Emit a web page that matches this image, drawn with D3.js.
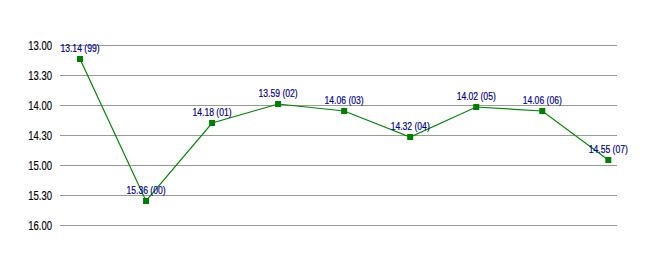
<!DOCTYPE html>
<html><head><meta charset="utf-8">
<script src="https://cdn.jsdelivr.net/npm/d3@7"></script>
<style>
html,body{margin:0;padding:0;background:#fff;}
svg{display:block;}
</style></head>
<body>
<svg id="chart" width="656" height="255"></svg>
<script>
const categories = ["99","00","01","02","03","04","05","06","07"];
const times = ["13.14","15.36","14.18","13.59","14.06","14.32","14.02","14.06","14.55"];
const tickLabels = ["13.00","13.30","14.00","14.30","15.00","15.30","16.00"];

const toSec = s => { const [m, ss] = s.split(".").map(Number); return m*60 + ss; };
const data = categories.map((c,i)=>({cat:c, label:times[i], v:toSec(times[i])}));

const svg = d3.select("#chart");
const font = "'Liberation Sans', Arial, sans-serif";

const y = d3.scaleLinear().domain([toSec("13.00"), toSec("16.00")]).range([45, 225]);
const x = d3.scalePoint().domain(categories).range([80, 608.3]);

const yAxis = d3.axisLeft(y)
  .tickValues(tickLabels.map(toSec))
  .tickFormat((d,i)=>tickLabels[i])
  .tickSize(-556.5).tickPadding(8);

const g = svg.append("g").attr("transform","translate(60,0)").call(yAxis);
g.select(".domain").remove();
g.selectAll(".tick line").attr("stroke","#999").attr("stroke-width",1).attr("shape-rendering","crispEdges");
g.selectAll(".tick text").attr("fill","#000").attr("font-size","12.5px").attr("font-family",font)
  .attr("stroke","#000").attr("stroke-width",0.15)
  .each(function(){ const w=this.getComputedTextLength(); d3.select(this).attr("textLength",w*0.76).attr("lengthAdjust","spacingAndGlyphs"); });

const line = d3.line().x(d=>x(d.cat)).y(d=>y(d.v));
svg.append("path").datum(data).attr("d",line).attr("fill","none").attr("stroke","#008800").attr("stroke-width",1.2);

svg.selectAll("rect.pt").data(data).join("rect").attr("class","pt")
  .attr("x",d=>x(d.cat)-3).attr("y",d=>y(d.v)-3).attr("width",6).attr("height",6)
  .attr("fill","#008000");

svg.selectAll("text.lbl").data(data).join("text").attr("class","lbl")
  .attr("x",d=>x(d.cat)).attr("y",d=>y(d.v)-7)
  .attr("text-anchor","middle").attr("fill","#000099")
  .attr("stroke","#000099").attr("stroke-width",0.2)
  .attr("font-size","11px").attr("font-family",font)
  .text(d=>`${d.label} (${d.cat})`)
  .each(function(){ const w=this.getComputedTextLength(); d3.select(this).attr("textLength",w*0.78).attr("lengthAdjust","spacingAndGlyphs"); });
</script>
</body></html>
